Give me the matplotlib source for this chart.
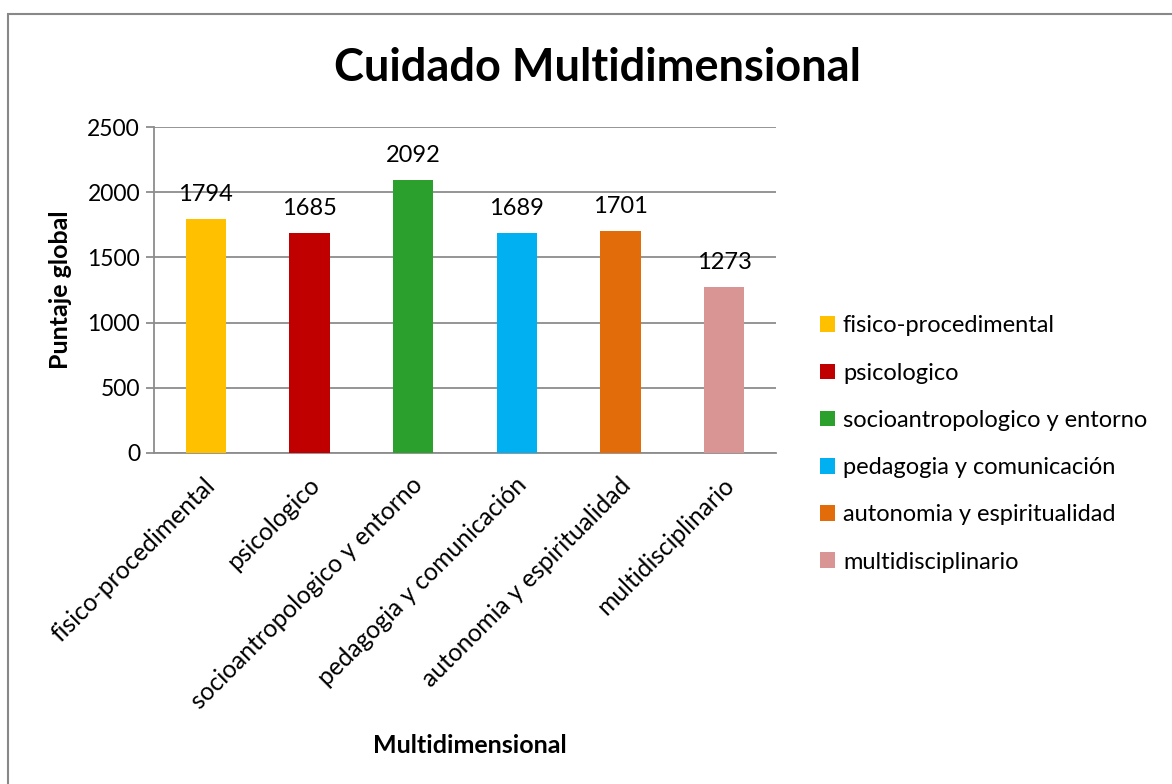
import matplotlib
matplotlib.use("Agg")
import matplotlib.pyplot as plt
from matplotlib.patches import Rectangle
from matplotlib.transforms import ScaledTranslation

categories = ["fisico-procedimental", "psicologico", "socioantropologico y entorno",
              "pedagogia y comunicación", "autonomia y espiritualidad", "multidisciplinario"]
values = [1794, 1685, 2092, 1689, 1701, 1273]
colors = ["#FFC000", "#C00000", "#2CA02C", "#00B0F0", "#E36C0A", "#D99594"]
yticks = [0, 500, 1000, 1500, 2000, 2500]

plt.rcParams['font.family'] = ['Lato', 'DejaVu Sans']

W, H = 1172, 784
fig = plt.figure(figsize=(W / 100, H / 100), dpi=100)

# outer chart border (only top and left visible)
fig.patches.append(Rectangle((8 / W, -0.1), 1.2, 1 - 14 / H + 0.1, transform=fig.transFigure,
                             fill=False, edgecolor="#888888", lw=1.5))

ax = fig.add_axes([154 / W, 1 - 453 / H, (776 - 154) / W, (453 - 127) / H])
x = range(len(values))
bars = ax.bar(x, values, width=0.39, color=colors, label=categories, zorder=3)
for xi, v in zip(x, values):
    ax.annotate(str(v), (xi, v), xytext=(0, 10), textcoords="offset points",
                ha="center", va="bottom", fontsize=17)

ax.set_xlim(-0.5, len(values) - 0.5)
ax.set_ylim(0, 2500)
ax.set_yticks(yticks)
ax.yaxis.grid(True, color="#8c8c8c", lw=1.3, zorder=0)
ax.set_axisbelow(True)
for s in ["top", "right"]:
    ax.spines[s].set_visible(False)
for s in ["left", "bottom"]:
    ax.spines[s].set_color("#8c8c8c")
    ax.spines[s].set_linewidth(1.3)
ax.tick_params(axis="y", labelsize=16.5, length=6, color="#8c8c8c", width=1.3, pad=4)
ax.tick_params(axis="x", length=0, pad=14)
ax.set_xticks(list(x))
ax.set_xticklabels(categories, rotation=45, ha="right", va="center",
                   rotation_mode="anchor", fontsize=17.7)
shift = ScaledTranslation(6 / 100, -9 / 100, fig.dpi_scale_trans)
for lab in ax.get_xticklabels():
    lab.set_transform(lab.get_transform() + shift)

ax.set_ylabel("Puntaje global", fontsize=18, fontweight="bold", va="center")
ax.yaxis.set_label_coords(-0.151, 0.5)
ax.set_xlabel("Multidimensional", fontsize=18, fontweight="bold", va="center")
ax.xaxis.set_label_coords(0.508, -0.896)
fig.text(597 / W, 1 - 68 / H, "Cuidado Multidimensional", ha="center", va="center",
         fontsize=32.5, fontweight="bold")

leg = fig.legend(handles=bars, labels=categories, loc="center left",
                 bbox_to_anchor=(799 / W, 1 - 444 / H), frameon=False, fontsize=17,
                 handlelength=0.63, handleheight=0.63, handletextpad=0.33, labelspacing=1.11)

fig.savefig("out.png", dpi=100)
